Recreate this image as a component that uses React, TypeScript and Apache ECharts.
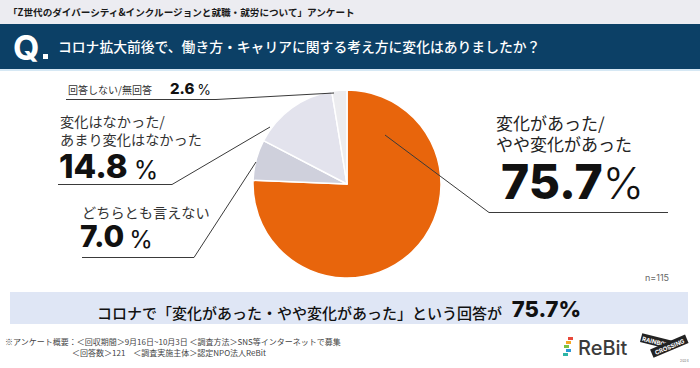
import React, { useEffect, useRef } from "react";
import * as echarts from "echarts";

const categories = [
  "変化があった/やや変化があった",
  "どちらとも言えない",
  "変化はなかった/あまり変化はなかった",
  "回答しない/無回答",
];
const values = [75.7, 7.0, 14.8, 2.6];
const sliceColors = ["#e8650c", "#cfd0dc", "#e3e3ed", "#ececef"];
const labelLines = [
  ["変化があった/", "やや変化があった"],
  ["どちらとも言えない"],
  ["変化はなかった/", "あまり変化はなかった"],
  ["回答しない/無回答"],
];
const headerTitle = "「Z世代のダイバーシティ&インクルージョンと就職・就労について」アンケート";
const question = "コロナ拡大前後で、働き方・キャリアに関する考え方に変化はありましたか？";
const sampleSize = "n=115";
const summaryText = "コロナで「変化があった・やや変化があった」という回答が";
const footerLines = [
  "※アンケート概要：＜回収期間＞9月16日~10月3日 ＜調査方法＞SNS等インターネットで募集",
  "＜回答数＞121　＜調査実施主体＞認定NPO法人ReBit",
];

const JP = '"Noto Sans CJK JP", "Noto Sans", sans-serif';
const NUM = 'Inter, "Noto Sans", sans-serif';

export default function App() {
  const ref = useRef<HTMLDivElement>(null);
  useEffect(() => {
    if (!ref.current) return;
    const chart = echarts.init(ref.current, null, { renderer: "svg" });
    const line = (x1: number, y1: number, x2: number, y2: number) => ({
      type: "line",
      shape: { x1, y1, x2, y2 },
      style: { stroke: "#3a3a3a", lineWidth: 1 },
      z: 10,
    });
    const txt = (x: number, y: number, text: string, size: number, extra: any = {}) => ({
      type: "text",
      x,
      y,
      z: 10,
      style: {
        text,
        fontFamily: JP,
        fontSize: size,
        fill: "#222",
        textAlign: "left",
        textVerticalAlign: "middle",
        ...extra,
      },
    });
    const pct = (x: number, y: number, v: number, big: number, small: number, w: number, pw: number, gap: number) => ({
      type: "text",
      x,
      y,
      z: 10,
      style: {
        text: `{a|${v.toFixed(1)}}{s|}{b|%}`,
        textAlign: "left",
        textVerticalAlign: "bottom",
        rich: {
          a: { fontFamily: NUM, fontSize: big, fontWeight: w, fill: "#111", verticalAlign: "bottom", lineHeight: big * 0.8 },
          s: { width: gap, lineHeight: big * 0.8 },
          b: { fontFamily: NUM, fontSize: small, fontWeight: pw, fill: "#111", verticalAlign: "bottom", lineHeight: big * 0.8 },
        },
      },
    });

    const graphic: any[] = [
      { type: "rect", shape: { x: 0, y: 0, width: 700, height: 24 }, style: { fill: "#ececf1" } },
      { type: "rect", shape: { x: 0, y: 24, width: 700, height: 45 }, style: { fill: "#0c4066" } },
      { type: "rect", shape: { x: 0, y: 69, width: 700, height: 2 }, style: { fill: "#d6e8f4" } },
      txt(8, 12, headerTitle, 9.6, { fontWeight: "bold", fill: "#1a1a1a" }),
      {
        type: "text",
        x: 13,
        y: 47,
        style: { text: "Q", fontFamily: NUM, fontSize: 34, fontWeight: 700, fill: "#fff", textAlign: "left", textVerticalAlign: "middle" },
      },
      { type: "rect", shape: { x: 43, y: 54, width: 5, height: 5 }, style: { fill: "#fff" } },
      txt(58, 46, question, 13.8, { fill: "#fff", fontWeight: 500 }),

      // 2.6 label
      txt(68, 89, labelLines[3][0], 10, { fill: "#333" }),
      pct(170, 96, values[3], 15, 14, 800, 400, 3),
      line(66, 99.5, 216, 99.5),
      line(216, 99.5, 334, 93),

      // 14.8 label
      txt(60, 129.5, labelLines[2].join("\n"), 14.2, { fill: "#333", lineHeight: 18 }),
      pct(59, 182, values[2], 33, 25, 800, 400, 6),
      line(58, 184.5, 172, 184.5),
      line(172, 184.5, 270, 127),

      // 7.0 label
      txt(82, 212, labelLines[1][0], 14.2, { fill: "#333" }),
      pct(80, 251, values[1], 30, 24, 800, 400, 5),
      line(82, 257.5, 194, 257.5),
      line(194, 257.5, 256, 162),

      // 75.7 label
      txt(496, 133, labelLines[0].join("\n"), 17, { fill: "#222", lineHeight: 21 }),
      pct(501, 205, values[0], 48, 44, 800, 300, 0),
      line(489, 212.5, 668, 212.5),
      line(489, 212.5, 385, 135),

      txt(645, 277, sampleSize, 9, { fill: "#666", fontFamily: NUM }),

      // summary box
      { type: "rect", shape: { x: 10, y: 292, width: 678, height: 32 }, style: { fill: "#dfe6f5" } },
      {
        type: "text",
        x: 339,
        y: 308,
        style: {
          text: `{a|${summaryText}}{s|}{b|${values[0].toFixed(1)}%}`,
          textAlign: "center",
          textVerticalAlign: "middle",
          rich: {
            a: { fontFamily: JP, fontSize: 15, fontWeight: 500, fill: "#111", verticalAlign: "bottom", lineHeight: 24 },
            s: { width: 10 },
            b: { fontFamily: NUM, fontSize: 22, fontWeight: 800, fill: "#111", verticalAlign: "bottom", lineHeight: 24 },
          },
        },
      },

      // footer
      txt(5, 341, footerLines[0], 8, { fill: "#444" }),
      txt(72, 352, footerLines[1], 8, { fill: "#444" }),

      // ReBit logo
      { type: "rect", shape: { x: 568, y: 337, width: 5, height: 3 }, style: { fill: "#e8483a" } },
      { type: "rect", shape: { x: 566, y: 341, width: 5, height: 3 }, style: { fill: "#f5a623" } },
      { type: "rect", shape: { x: 564, y: 345, width: 5, height: 3 }, style: { fill: "#7cc242" } },
      { type: "rect", shape: { x: 566, y: 349, width: 5, height: 3 }, style: { fill: "#2a9ad6" } },
      { type: "rect", shape: { x: 563, y: 353, width: 5, height: 3 }, style: { fill: "#2cb5a5" } },
      txt(578, 348, "ReBit", 20, { fill: "#3b3b3b", fontFamily: NUM, fontWeight: 500 }),

      // Rainbow crossing logo
      {
        type: "group",
        x: 641,
        y: 338,
        rotation: -0.25,
        children: [
          { type: "rect", shape: { x: 0, y: -5, width: 32, height: 9 }, style: { fill: "#222" } },
          { type: "text", x: 16, y: 0, style: { text: "RAINBOW", fontFamily: NUM, fontSize: 6, fontWeight: 700, fill: "#fff", textAlign: "center", textVerticalAlign: "middle" } },
        ],
      },
      {
        type: "group",
        x: 652,
        y: 354,
        rotation: 0.4,
        children: [
          { type: "rect", shape: { x: 0, y: -5, width: 38, height: 9 }, style: { fill: "#222" } },
          { type: "text", x: 19, y: 0, style: { text: "CROSSING", fontFamily: NUM, fontSize: 6, fontWeight: 700, fill: "#fff", textAlign: "center", textVerticalAlign: "middle" } },
        ],
      },
      txt(680, 361, "2024", 3.5, { fill: "#777", fontFamily: NUM }),
    ];

    chart.setOption({
      animation: false,
      backgroundColor: "#ffffff",
      series: [
        {
          type: "pie",
          center: [347, 184],
          radius: [0, 94],
          startAngle: 90,
          clockwise: true,
          label: { show: false },
          labelLine: { show: false },
          emphasis: { disabled: true },
          itemStyle: { borderColor: "#ffffff", borderWidth: 1.5 },
          data: categories.map((name, i) => ({
            name,
            value: values[i],
            itemStyle: { color: sliceColors[i] },
          })),
          z: 2,
        },
      ],
      graphic,
    });
    return () => chart.dispose();
  }, []);
  return (
    <div
      ref={ref}
      style={{ position: "fixed", left: 0, top: 0, width: 700, height: 368 }}
    />
  );
}
